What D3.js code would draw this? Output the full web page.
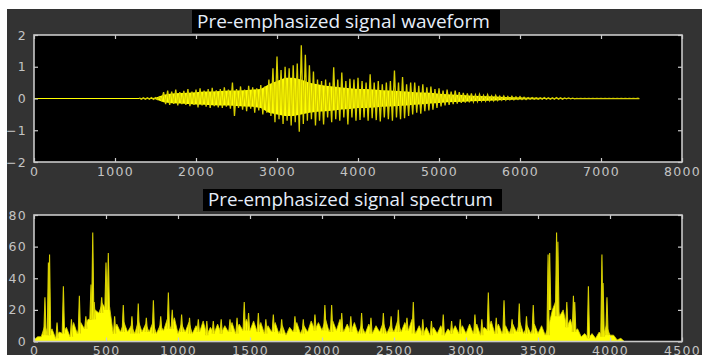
<!DOCTYPE html>
<html><head><meta charset="utf-8">
<script src="https://cdn.jsdelivr.net/npm/d3@7"></script>
<style>
html,body{margin:0;padding:0;background:#fff;}
svg{display:block;}
</style></head>
<body>
<svg id="c" width="702" height="355"></svg>
<script>
// ---------- DATA ----------
// Waveform: peak envelopes read every 50 samples starting at sample 1300 (zero before)
const waveStart = 1300, waveStep = 50, waveEnd = 7450;
const waveHi = [0.02,0.02,0.02,0.03,0.03,0.05,
  0.2,0.25,0.22,0.28,0.2,0.24,
  0.3,0.22,0.28,0.32,0.25,0.3,0.34,0.26,0.3,0.35,0.28,
  0.5,
  0.3,0.38,0.28,0.4,0.35,0.32,0.42,0.38,
  0.6,0.95,1.32,0.9,1.0,0.95,1.05,1.1,1.68,1.38,1.05,0.85,0.6,0.55,0.6,0.5,0.98,0.6,0.82,0.55,
  0.62,0.6,0.65,0.55,0.5,0.76,0.5,0.55,0.45,0.5,0.55,0.88,0.5,0.68,0.45,0.5,0.5,0.4,0.45,0.35,
  0.38,0.3,0.32,0.25,0.28,0.22,0.25,0.2,0.18,0.16,0.16,0.12,0.13,0.1,0.12,0.08,0.1,0.07,0.08,0.06,
  0.07,0.05,0.06,0.04,0.03,0.03,0.02,0.02,0.03,0.02,0.02,0.03,0.02,0.02,0.02,0.01,
  0.005,0.005,0.005,0.005,0.005,0.005,0.005,0.005,0.005,0.005,0.005,0.005,0.005,0.005,0.005,0.005];
const waveLo = [-0.02,-0.02,-0.02,-0.03,-0.03,-0.05,
  -0.18,-0.2,-0.17,-0.22,-0.18,-0.2,
  -0.24,-0.2,-0.28,-0.22,-0.26,-0.3,-0.24,-0.28,-0.3,-0.26,-0.32,
  -0.55,
  -0.3,-0.35,-0.4,-0.32,-0.45,-0.38,-0.5,-0.45,
  -0.55,-0.75,-0.65,-0.8,-0.7,-0.85,-0.75,-1.05,-0.8,-0.7,-0.65,-0.85,-0.7,-0.82,-0.6,-0.75,-0.65,-0.7,-0.6,-0.82,
  -0.6,-0.7,-0.68,-0.6,-0.7,-0.62,-0.68,-0.72,-0.6,-0.65,-0.7,-0.6,-0.65,-0.62,-0.55,-0.5,-0.45,-0.48,-0.4,-0.38,
  -0.35,-0.3,-0.25,-0.22,-0.2,-0.18,-0.16,-0.14,-0.13,-0.12,-0.1,-0.09,-0.08,-0.08,-0.07,-0.07,-0.06,-0.05,-0.05,-0.04,
  -0.04,-0.03,-0.03,-0.03,-0.02,-0.02,-0.02,-0.02,-0.02,-0.02,-0.02,-0.02,-0.02,-0.01,-0.01,-0.01,
  -0.005,-0.005,-0.005,-0.005,-0.005,-0.005,-0.005,-0.005,-0.005,-0.005,-0.005,-0.005,-0.005,-0.005,-0.005,-0.005];
// Solid core band of the waveform, every 100 samples from 1300
const coreStep = 100;
const coreHi = [0.01,0.01,0.02,0.12,0.16,0.17,0.18,0.2,0.22,0.22,0.24,0.25,0.25,0.26,0.28,0.3,0.45,0.55,0.65,0.65,0.6,0.5,0.45,0.4,0.38,0.35,
  0.32,0.3,0.3,0.28,0.26,0.25,0.24,0.22,0.2,0.19,0.18,0.15,0.13,0.12,0.11,0.09,0.08,0.07,0.06,0.05,0.04,0.03,0.02,0.02,0.015,0.01,0.01,0.005,0.005,0.005,0.005,0.005,0.005,0.005,0.005,0.005];
const coreLo = [-0.01,-0.01,-0.02,-0.12,-0.15,-0.16,-0.17,-0.19,-0.2,-0.21,-0.22,-0.22,-0.24,-0.25,-0.26,-0.3,-0.45,-0.5,-0.55,-0.55,-0.5,-0.45,-0.42,-0.4,-0.38,-0.35,
  -0.33,-0.3,-0.3,-0.28,-0.26,-0.25,-0.24,-0.22,-0.2,-0.18,-0.16,-0.14,-0.12,-0.11,-0.1,-0.09,-0.08,-0.07,-0.06,-0.05,-0.04,-0.03,-0.02,-0.02,-0.015,-0.01,-0.01,-0.005,-0.005,-0.005,-0.005,-0.005,-0.005,-0.005,-0.005,-0.005];

// Spectrum: jagged band, valleys at every 50 Hz and ripple tops halfway between
const specStep = 50;
const specValley = [1,3,4,2,5,3,5,8,14,18,20,
  5,6,6,5,6,6,5,7,8,5, 6,5,6,4,5,5,6,5,7,7, 6,5,6,5,4,6,5,6,7,7, 6,7,6,6,5,5,5,6,5,6, 6,7,5,4,4,5,4,5,5,5, 5,4,7,5,5,5,6,5,5,5, 4,
  20,16,9,6,3,2,2,3,4,1,0];
const specRipple = [3,10,8,6,9,12,12,14,20,24,22,
  11,12,10,13,11,12,10,14,15,11, 12,10,13,9,11,10,12,11,14,13, 12,10,12,10,9,12,10,13,12,14, 13,14,11,12,10,11,10,12,10,13, 12,14,10,9,9,10,8,10,10,11, 11,9,13,11,10,11,12,10,11,10, 10,
  26,20,14,8,5,5,6,10,4,2,0];
// Spectrum spikes: frequency (Hz) and magnitude
const peakFreq = [76,100,108,160,204,260,315,360,396,408,418,470,500,516,560,620,680,724,780,829,880,933,960,1025,1080,1141,1200,1245,1300,1361,1410,1460,1490,1558,1610,1662,1720,1812,1870,1951,2020,2067,2137,2200,2275,2340,2426,2480,2530,2590,2634,2700,2760,2842,2900,2960,3062,3110,3155,3210,3264,3320,3370,3420,3467,3570,3581,3629,3638,3700,3746,3755,3850,3944,3952,3979];
const peakVal  = [28,50,55,12,35,14,29,16,36,69,25,28,50,56,16,23,16,24,15,26,16,31,20,17,15,14,13,13,14,14,15,25,18,18,14,17,14,16,14,17,23,23,18,16,18,15,18,16,20,15,25,14,13,17,13,14,17,14,31,15,26,14,24,16,23,55,56,69,63,25,29,25,35,55,37,28];

// Axis ticks
const waveXTicks = [0,1000,2000,3000,4000,5000,6000,7000,8000];
const waveYTicks = [-2,-1,0,1,2];
const specXTicks = [0,500,1000,1500,2000,2500,3000,3500,4000,4500];
const specYTicks = [0,20,40,60,80];
const titles = ["Pre-emphasized signal waveform","Pre-emphasized signal spectrum"];

// ---------- DRAW ----------
const svg = d3.select("#c");
svg.append("rect").attr("x",7).attr("y",9).attr("width",695).attr("height",346).attr("fill","#333333");

const frame = "#c9c9c9";
const yellow = "#ffff00";
const spikeCol = "#d8d000";

function panel(cfg){
  const {x,y,id} = cfg;
  const [L,R] = x.range(), [B,T] = y.range();
  svg.append("rect").attr("x",L).attr("y",T).attr("width",R-L).attr("height",B-T).attr("fill","#000");
  svg.append("clipPath").attr("id",id).append("rect").attr("x",L).attr("y",T).attr("width",R-L).attr("height",B-T);
  return svg.append("g").attr("clip-path",`url(#${id})`);
}
function axes(x,y,xTicks,yTicks){
  const [L,R] = x.range(), [B,T] = y.range();
  const st = s => s.call(g=>{g.select(".domain").remove();
     g.selectAll("line").attr("stroke",frame).attr("stroke-width",1.2);
     g.selectAll("text").attr("fill","#c4c4c4").style("font-family","DejaVu Sans").style("font-size","12.5px").style("letter-spacing","1.3px");});
  svg.append("g").attr("transform",`translate(0,${B})`).call(d3.axisBottom(x).tickValues(xTicks).tickSizeInner(-4).tickSizeOuter(0).tickPadding(5).tickFormat(d3.format("d"))).call(st);
  svg.append("g").attr("transform",`translate(0,${T})`).call(d3.axisTop(x).tickValues(xTicks).tickSizeInner(-4).tickSizeOuter(0).tickFormat("")).call(st);
  svg.append("g").attr("transform",`translate(${L},0)`).call(d3.axisLeft(y).tickValues(yTicks).tickSizeInner(-4).tickSizeOuter(0).tickPadding(7).tickFormat(d3.format("d"))).call(st);
  svg.append("g").attr("transform",`translate(${R},0)`).call(d3.axisRight(y).tickValues(yTicks).tickSizeInner(-4).tickSizeOuter(0).tickFormat("")).call(st);
  svg.append("rect").attr("x",L).attr("y",T).attr("width",R-L).attr("height",B-T).attr("fill","none").attr("stroke",frame).attr("stroke-width",1.6);
}
function title(text, boxX, boxY, boxW, boxH, tx, ty, tw){
  svg.append("rect").attr("x",boxX).attr("y",boxY).attr("width",boxW).attr("height",boxH).attr("fill","#000");
  const t = svg.append("text").attr("x",tx).attr("y",ty).text(text)
    .attr("fill","#e6eefa").style("font-family","'Open Sans'").style("font-size","18px");
  const w = t.node().getComputedTextLength();
  t.style("font-size",(18*tw/w).toFixed(2)+"px");
}

// Waveform panel
const x1 = d3.scaleLinear([0,8000],[34,682]);
const y1 = d3.scaleLinear([-2,2],[162,35]);
const g1 = panel({x:x1,y:y1,id:"cp1"});
g1.append("path").attr("d", d3.line()([[x1(0),y1(0)],[x1(waveStart),y1(0)]])).attr("stroke",yellow).attr("stroke-width",1.1).attr("fill","none");
const coreArea = d3.area().x((d,i)=>x1(waveStart+i*coreStep)).y0((d,i)=>y1(coreLo[i])).y1(d=>y1(d));
g1.append("path").attr("d",coreArea(coreHi)).attr("fill",yellow);
const zz = [];
waveHi.forEach((h,i)=>{ const s = waveStart+i*waveStep; zz.push([x1(s),y1(h)]); zz.push([x1(s+waveStep/2),y1(waveLo[i])]); });
zz.push([x1(waveEnd),y1(0)]);
g1.append("path").attr("d",d3.line()(zz)).attr("stroke",spikeCol).attr("stroke-width",1.3).attr("fill","none");
axes(x1,y1,waveXTicks,waveYTicks);
title(titles[0],192,10,308,23,197,28,293);

// Spectrum panel
const x2 = d3.scaleLinear([0,4500],[34,682]);
const y2 = d3.scaleLinear([0,80],[341.5,215]);
const g2 = panel({x:x2,y:y2,id:"cp2"});
const band = [];
specValley.forEach((v,i)=>{ band.push([i*specStep, v]); band.push([i*specStep+specStep/2, specRipple[i]]); });
const bandArea = d3.area().x(d=>x2(d[0])).y0(y2(0)).y1(d=>y2(d[1]));
g2.append("path").attr("d",bandArea(band)).attr("fill",yellow).attr("stroke",spikeCol).attr("stroke-width",0.8);
peakFreq.forEach((f,i)=>{
  const b = Math.min(specValley[Math.min(specValley.length-1, Math.round(f/specStep))], peakVal[i]);
  g2.append("path").attr("d",d3.line()([[x2(f-8),y2(b)],[x2(f),y2(peakVal[i])],[x2(f+8),y2(b)]]))
    .attr("fill",yellow).attr("stroke",spikeCol).attr("stroke-width",1.1);
});
axes(x2,y2,specXTicks,specYTicks);
title(titles[1],203,189,299,22,208,206,285);

svg.append("rect").attr("x",0).attr("y",0).attr("width",702).attr("height",9).attr("fill","#fff");
svg.append("rect").attr("x",0).attr("y",0).attr("width",7).attr("height",355).attr("fill","#fff");
</script>
</body></html>
